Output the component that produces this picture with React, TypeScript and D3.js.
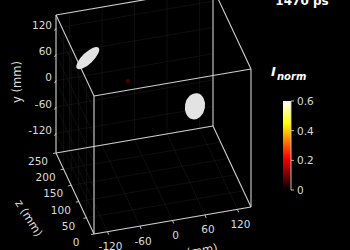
import React from 'react';
import * as d3 from 'd3';

// ---- data ----
const X_DOMAIN = [-145, 145];
const Y_DOMAIN = [-165, 150];
const Z_DOMAIN = [0, 250];
const X_TICKS = [-120, -60, 0, 60, 120];
const Y_TICKS = [120, 60, 0, -60, -120];
const Z_TICKS = [0, 50, 100, 150, 200, 250];
const CB_DOMAIN = [0, 0.6];
const CB_TICKS = [0, 0.2, 0.4, 0.6];
const CB_TICK_LABELS = ['0', '0.2', '0.4', '0.6'];
// spots: 3D centres (mm) and normalised intensity
const SPOT_X = [-120, 78, -46];
const SPOT_Y = [135, -17, 67];
const SPOT_Z = [130, 130, 130];
const SPOT_I = [0.6, 0.6, 0.1];
const TITLE = '1470 ps';

// ---- styling (not data) ----
const SPOT_SHAPE = [
  { rx: 15, ry: 5.6, rot: -44, r: 0 },
  { rx: 10, ry: 13.2, rot: 10, r: 0 },
  { rx: 0, ry: 0, rot: 0, r: 2 },
];
const FONT = 'DejaVu Sans';
const TXT = '#dcdcdc';
const LINE = '#cfcfcf';
const GRID = '#1a1a1a';

export default function App() {
  const W = 350, H = 250;
  const fx = d3.scaleLinear().domain(X_DOMAIN).range([0, 1]);
  const fy = d3.scaleLinear().domain(Y_DOMAIN).range([0, 1]);
  const fz = d3.scaleLinear().domain(Z_DOMAIN).range([0, 1]);
  const O = [94, 234], EX = [157, -27], EY = [0, -138], EZ = [-38, -81];
  const P = (x: number, y: number, z: number): [number, number] => [
    O[0] + fx(x) * EX[0] + fy(y) * EY[0] + fz(z) * EZ[0],
    O[1] + fx(x) * EX[1] + fy(y) * EY[1] + fz(z) * EZ[1],
  ];
  const [x0, x1] = X_DOMAIN, [y0, y1] = Y_DOMAIN, [z0, z1] = Z_DOMAIN;

  // box edges
  const edges: [number[], number[]][] = [];
  for (const y of [y0, y1]) for (const z of [z0, z1]) edges.push([[x0, y, z], [x1, y, z]]);
  for (const x of [x0, x1]) for (const z of [z0, z1]) edges.push([[x, y0, z], [x, y1, z]]);
  for (const x of [x0, x1]) for (const y of [y0, y1]) edges.push([[x, y, z0], [x, y, z1]]);

  // faint grid on panes
  const grid: [number[], number[]][] = [];
  X_TICKS.forEach(x => { grid.push([[x, y0, z0], [x, y0, z1]]); grid.push([[x, y0, z1], [x, y1, z1]]); });
  Z_TICKS.forEach(z => { grid.push([[x0, y0, z], [x1, y0, z]]); grid.push([[x0, y0, z], [x0, y1, z]]); });
  Y_TICKS.forEach(y => { grid.push([[x0, y, z1], [x1, y, z1]]); grid.push([[x0, y, z0], [x0, y, z1]]); });

  const line = (a: number[], b: number[], i: number, stroke: string, w: number) => {
    const p = P(a[0], a[1], a[2]), q = P(b[0], b[1], b[2]);
    return <line key={i} x1={p[0]} y1={p[1]} x2={q[0]} y2={q[1]} stroke={stroke} strokeWidth={w} />;
  };

  // colorbar
  const cbX = 283, cbW = 8;
  const cy = d3.scaleLinear().domain(CB_DOMAIN).range([190, 101]);
  const hot = (t: number) => {
    const r = Math.min(1, Math.max(0, t / 0.365));
    const g = Math.min(1, Math.max(0, (t - 0.365) / 0.381));
    const b = Math.min(1, Math.max(0, (t - 0.746) / 0.254));
    return d3.rgb(r * 255, g * 255, b * 255).toString();
  };
  const stops = d3.range(0, 1.0001, 0.05);

  return (
    <svg width={W} height={H} style={{ position: 'fixed', left: 0, top: 0, background: '#000' }}
      fontFamily={FONT}>
      <defs>
        <linearGradient id="hot" x1="0" y1="1" x2="0" y2="0">
          {stops.map((s, i) => <stop key={i} offset={s} stopColor={hot(s)} />)}
        </linearGradient>
      </defs>
      <rect x={0} y={0} width={W} height={H} fill="#000" />
      <g>{grid.map((g, i) => line(g[0], g[1], i, GRID, 0.6))}</g>
      <g>{edges.map((e, i) => line(e[0], e[1], i, LINE, 1.1))}</g>

      {/* x axis ticks */}
      {X_TICKS.map((t, i) => {
        const p = P(t, y0, z0);
        return (
          <g key={'x' + i}>
            <line x1={p[0]} y1={p[1]} x2={p[0] + 1.2} y2={p[1] + 3} stroke={LINE} strokeWidth={0.9} />
            <text x={p[0] + 3} y={p[1] + 14.5} fill={TXT} fontSize={10.5} textAnchor="middle" dominantBaseline="central">{t}</text>
          </g>
        );
      })}
      {/* y axis ticks */}
      {Y_TICKS.map((t, i) => {
        const p = P(x0, t, z1);
        return (
          <g key={'y' + i}>
            <line x1={p[0]} y1={p[1]} x2={p[0] - 1.5} y2={p[1] + 2.5} stroke={LINE} strokeWidth={0.9} />
            <text x={p[0] - 4} y={p[1] - 3.5} fill={TXT} fontSize={10.5} textAnchor="end" dominantBaseline="central">{t}</text>
          </g>
        );
      })}
      {/* z axis ticks */}
      {Z_TICKS.map((t, i) => {
        const p = P(x0, y0, t);
        return (
          <g key={'z' + i}>
            <line x1={p[0]} y1={p[1]} x2={p[0] - 3} y2={p[1] + 0.5} stroke={LINE} strokeWidth={0.9} />
            <text x={p[0] - 18} y={p[1] + 8} fill={TXT} fontSize={10.5} textAnchor="middle" dominantBaseline="central">{t}</text>
          </g>
        );
      })}

      {/* axis labels */}
      <text transform="translate(17,82) rotate(-90)" fill={TXT} fontSize={11.5} textAnchor="middle" dominantBaseline="central">y (mm)</text>
      <text transform="translate(29,218) rotate(58)" fill={TXT} fontSize={11.5} textAnchor="middle" dominantBaseline="central">z (mm)</text>
      <text transform="translate(197,251) rotate(-9.8)" fill={TXT} fontSize={11.5} textAnchor="middle" dominantBaseline="central">x (mm)</text>

      {/* spots */}
      {SPOT_X.map((x, i) => {
        const p = P(x, SPOT_Y[i], SPOT_Z[i]);
        const s = SPOT_SHAPE[i];
        const col = SPOT_I[i] >= 0.6 ? '#e3e3e3' : d3.rgb(hot(SPOT_I[i] / 0.6)).darker(1.2).toString();
        return s.r > 0
          ? <circle key={'s' + i} cx={p[0]} cy={p[1]} r={s.r} fill={col} />
          : <ellipse key={'s' + i} cx={0} cy={0} rx={s.rx} ry={s.ry} fill={col}
              transform={`translate(${p[0]},${p[1]}) rotate(${s.rot})`} />;
      })}

      {/* title */}
      <text x={302} y={5} fill="#fff" fontSize={12} fontWeight="bold" textAnchor="middle">{TITLE}</text>

      {/* colorbar */}
      <text x={271} y={76} fill="#fff" fontSize={13} fontWeight="bold" fontStyle="italic">I</text>
      <text x={277} y={80} fill="#fff" fontSize={10} fontWeight="bold" fontStyle="italic">norm</text>
      <rect x={cbX} y={cy(CB_DOMAIN[1])} width={cbW} height={cy(CB_DOMAIN[0]) - cy(CB_DOMAIN[1])} fill="url(#hot)" />
      <line x1={cbX + cbW} y1={cy(CB_DOMAIN[1])} x2={cbX + cbW} y2={cy(CB_DOMAIN[0])} stroke={LINE} strokeWidth={0.9} />
      {CB_TICKS.map((t, i) => (
        <g key={'c' + i}>
          <line x1={cbX + cbW} y1={cy(t)} x2={cbX + cbW + 3} y2={cy(t)} stroke={LINE} strokeWidth={0.9} />
          <text x={cbX + cbW + 6} y={cy(t)} fill={TXT} fontSize={10.5} dominantBaseline="central">{CB_TICK_LABELS[i]}</text>
        </g>
      ))}
    </svg>
  );
}
